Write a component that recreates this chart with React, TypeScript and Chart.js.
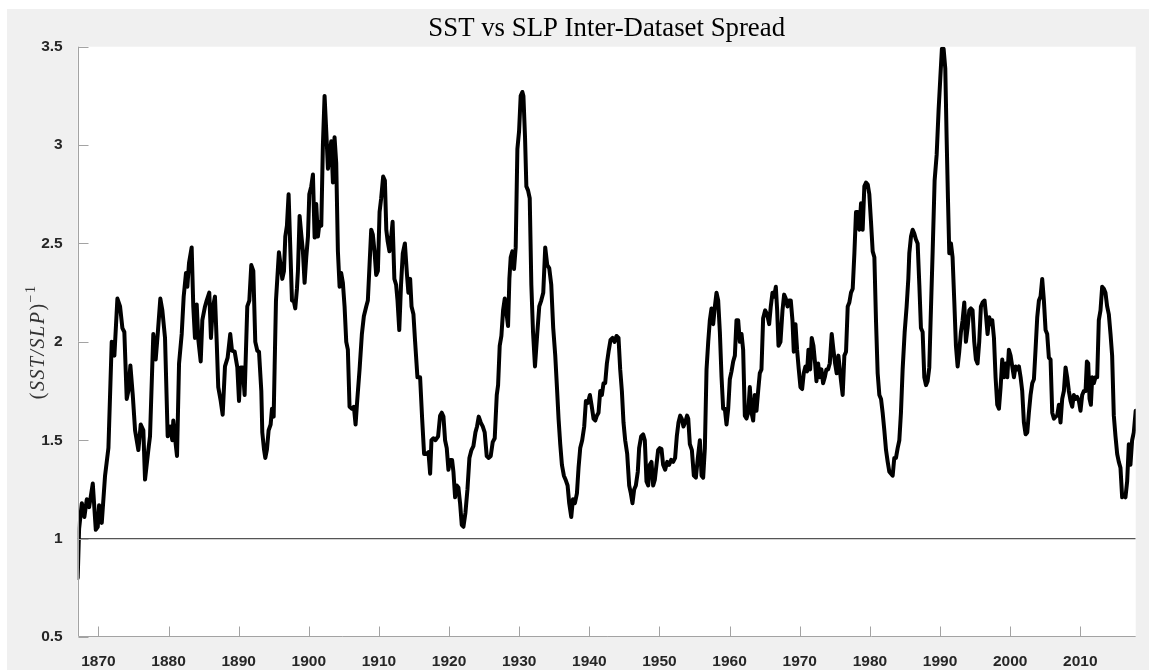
import React, { useEffect, useRef } from "react";
import { Chart, registerables } from "chart.js";

Chart.register(...registerables);

// ---- Data -------------------------------------------------------------
const chartTitle = "SST vs SLP Inter-Dataset Spread";
const xTickYears = [1870, 1880, 1890, 1900, 1910, 1920, 1930, 1940, 1950, 1960, 1970, 1980, 1990, 2000, 2010];
const yTickValues = [0.5, 1, 1.5, 2, 2.5, 3, 3.5];
const xStart = 1867.05;
const xEnd = 2017.9;
const referenceLevel = 1;

// [year, (SST/SLP)^-1]
const spreadSeries: [number, number][] = [
  [1867.05, 0.8], [1867.25, 1.05], [1867.64, 1.18], [1868.0, 1.11], [1868.35, 1.2], [1868.68, 1.16],
  [1869.2, 1.28], [1869.63, 1.045], [1869.91, 1.06], [1870.1, 1.17], [1870.48, 1.08], [1870.95, 1.32],
  [1871.43, 1.46], [1871.9, 2.0], [1872.28, 1.93], [1872.71, 2.22], [1873.09, 2.18], [1873.42, 2.07],
  [1873.7, 2.05], [1874.04, 1.71], [1874.27, 1.75], [1874.56, 1.88], [1874.9, 1.73], [1875.23, 1.55],
  [1875.7, 1.45], [1876.04, 1.58], [1876.41, 1.55], [1876.65, 1.3], [1877.12, 1.45], [1877.36, 1.52],
  [1877.83, 2.04], [1878.17, 1.91], [1878.46, 2.04], [1878.83, 2.22], [1879.12, 2.16], [1879.5, 2.02],
  [1879.88, 1.52], [1880.21, 1.57], [1880.54, 1.5], [1880.68, 1.6], [1880.93, 1.51], [1881.21, 1.42],
  [1881.5, 1.89], [1881.88, 2.04], [1882.16, 2.23], [1882.49, 2.35], [1882.68, 2.28], [1882.92, 2.4],
  [1883.3, 2.48], [1883.53, 2.18], [1883.77, 2.02], [1884.02, 2.19], [1884.25, 2.01], [1884.59, 1.9],
  [1884.82, 2.11], [1885.2, 2.18], [1885.44, 2.21], [1885.81, 2.25], [1886.05, 2.02], [1886.3, 2.17],
  [1886.62, 2.23], [1886.87, 2.0], [1887.09, 1.77], [1887.44, 1.7], [1887.72, 1.63], [1888.05, 1.875],
  [1888.43, 1.92], [1888.8, 2.04], [1889.05, 1.955], [1889.43, 1.95], [1889.81, 1.87], [1890.05, 1.7],
  [1890.28, 1.87], [1890.57, 1.87], [1890.85, 1.73], [1891.23, 2.18], [1891.52, 2.21], [1891.8, 2.39],
  [1892.09, 2.36], [1892.37, 2.0], [1892.66, 1.955], [1892.9, 1.95], [1893.23, 1.75], [1893.37, 1.54],
  [1893.61, 1.455], [1893.8, 1.41], [1894.04, 1.455], [1894.27, 1.55], [1894.56, 1.58], [1894.75, 1.66],
  [1894.99, 1.62], [1895.13, 1.875], [1895.32, 2.21], [1895.6, 2.375], [1895.74, 2.455], [1895.98, 2.39],
  [1896.22, 2.32], [1896.46, 2.36], [1896.65, 2.535], [1896.88, 2.59], [1897.12, 2.75], [1897.31, 2.535],
  [1897.6, 2.21], [1897.88, 2.205], [1898.07, 2.17], [1898.31, 2.27], [1898.45, 2.36], [1898.69, 2.64],
  [1898.93, 2.545], [1899.16, 2.46], [1899.4, 2.3], [1899.64, 2.43], [1899.88, 2.535], [1900.07, 2.75],
  [1900.35, 2.79], [1900.59, 2.85], [1900.83, 2.53], [1901.06, 2.7], [1901.3, 2.535], [1901.54, 2.61],
  [1901.78, 2.59], [1902.01, 3.0], [1902.25, 3.25], [1902.49, 3.07], [1902.73, 2.88], [1902.96, 2.95],
  [1903.2, 3.02], [1903.44, 2.81], [1903.67, 3.04], [1903.91, 2.91], [1904.15, 2.46], [1904.39, 2.28],
  [1904.62, 2.35], [1904.86, 2.3], [1905.1, 2.18], [1905.34, 2.0], [1905.57, 1.96], [1905.81, 1.67],
  [1906.14, 1.66], [1906.43, 1.67], [1906.67, 1.58], [1906.9, 1.7], [1907.24, 1.86], [1907.57, 2.04],
  [1907.85, 2.13], [1908.19, 2.18], [1908.42, 2.21], [1908.66, 2.39], [1908.9, 2.57], [1909.13, 2.545],
  [1909.37, 2.46], [1909.61, 2.34], [1909.85, 2.36], [1910.09, 2.66], [1910.32, 2.73], [1910.6, 2.84],
  [1910.85, 2.82], [1911.05, 2.57], [1911.25, 2.51], [1911.5, 2.46], [1911.75, 2.535], [1911.95, 2.61],
  [1912.2, 2.32], [1912.45, 2.29], [1912.65, 2.21], [1912.9, 2.06], [1913.15, 2.29], [1913.4, 2.45],
  [1913.7, 2.5], [1914.0, 2.34], [1914.2, 2.25], [1914.45, 2.32], [1914.65, 2.18], [1914.92, 2.14],
  [1915.16, 2.0], [1915.49, 1.82], [1915.87, 1.82], [1916.16, 1.61], [1916.44, 1.43], [1916.78, 1.43],
  [1917.06, 1.44], [1917.3, 1.33], [1917.49, 1.5], [1917.77, 1.51], [1918.06, 1.5], [1918.44, 1.52],
  [1918.72, 1.625], [1918.96, 1.64], [1919.2, 1.62], [1919.43, 1.5], [1919.67, 1.46], [1919.91, 1.35],
  [1920.15, 1.4], [1920.43, 1.4], [1920.62, 1.34], [1920.86, 1.21], [1921.1, 1.27], [1921.33, 1.26],
  [1921.57, 1.18], [1921.81, 1.07], [1922.05, 1.06], [1922.33, 1.13], [1922.62, 1.25], [1922.9, 1.41],
  [1923.19, 1.45], [1923.47, 1.47], [1923.76, 1.54], [1923.99, 1.57], [1924.23, 1.62], [1924.52, 1.59],
  [1924.8, 1.57], [1925.08, 1.54], [1925.37, 1.42], [1925.66, 1.41], [1925.94, 1.42], [1926.22, 1.49],
  [1926.51, 1.51], [1926.8, 1.73], [1926.99, 1.78], [1927.22, 1.98], [1927.46, 2.03], [1927.7, 2.16],
  [1927.94, 2.22], [1928.17, 2.15], [1928.41, 2.08], [1928.6, 2.32], [1928.79, 2.43], [1929.03, 2.46],
  [1929.26, 2.37], [1929.5, 2.48], [1929.74, 2.98], [1929.98, 3.07], [1930.21, 3.25], [1930.45, 3.27],
  [1930.6, 3.25], [1930.83, 3.04], [1931.02, 2.79], [1931.26, 2.77], [1931.5, 2.73], [1931.73, 2.29],
  [1931.97, 2.05], [1932.25, 1.875], [1932.57, 2.04], [1932.86, 2.18], [1933.14, 2.21], [1933.43, 2.25],
  [1933.71, 2.48], [1934.0, 2.39], [1934.28, 2.375], [1934.57, 2.29], [1934.85, 2.07], [1935.14, 1.93],
  [1935.38, 1.77], [1935.61, 1.61], [1935.85, 1.48], [1936.09, 1.375], [1936.37, 1.32], [1936.66, 1.295],
  [1936.9, 1.27], [1937.13, 1.18], [1937.42, 1.11], [1937.66, 1.2], [1937.94, 1.18], [1938.23, 1.23],
  [1938.46, 1.36], [1938.7, 1.46], [1938.98, 1.5], [1939.27, 1.57], [1939.51, 1.7], [1939.79, 1.69],
  [1940.08, 1.73], [1940.31, 1.68], [1940.6, 1.61], [1940.84, 1.6], [1941.07, 1.625], [1941.31, 1.64],
  [1941.55, 1.75], [1941.79, 1.73], [1942.02, 1.79], [1942.26, 1.79], [1942.5, 1.89], [1942.74, 1.95],
  [1943.02, 2.01], [1943.31, 2.02], [1943.59, 2.0], [1943.88, 2.03], [1944.16, 2.02], [1944.4, 1.86],
  [1944.64, 1.75], [1944.87, 1.59], [1945.11, 1.5], [1945.4, 1.43], [1945.68, 1.27], [1945.92, 1.23],
  [1946.15, 1.18], [1946.39, 1.25], [1946.63, 1.27], [1946.91, 1.34], [1947.1, 1.46], [1947.39, 1.52],
  [1947.67, 1.53], [1947.91, 1.5], [1948.15, 1.29], [1948.39, 1.27], [1948.62, 1.375], [1948.86, 1.39],
  [1949.1, 1.27], [1949.34, 1.3], [1949.57, 1.375], [1949.81, 1.45], [1950.05, 1.46], [1950.29, 1.455],
  [1950.52, 1.375], [1950.81, 1.35], [1951.09, 1.39], [1951.38, 1.375], [1951.66, 1.4], [1951.95, 1.39],
  [1952.23, 1.41], [1952.47, 1.52], [1952.71, 1.59], [1952.95, 1.625], [1953.18, 1.61], [1953.42, 1.57],
  [1953.66, 1.59], [1953.94, 1.625], [1954.1, 1.61], [1954.33, 1.48], [1954.62, 1.45], [1954.9, 1.32],
  [1955.19, 1.31], [1955.47, 1.41], [1955.76, 1.5], [1956.0, 1.32], [1956.23, 1.31], [1956.47, 1.46],
  [1956.71, 1.86], [1956.95, 2.0], [1957.18, 2.11], [1957.42, 2.17], [1957.66, 2.09], [1957.9, 2.18],
  [1958.13, 2.25], [1958.37, 2.21], [1958.61, 2.05], [1958.85, 1.82], [1959.08, 1.66], [1959.32, 1.66],
  [1959.56, 1.58], [1959.8, 1.66], [1960.03, 1.81], [1960.27, 1.85], [1960.51, 1.9], [1960.75, 1.93],
  [1960.98, 2.11], [1961.22, 2.11], [1961.46, 2.0], [1961.7, 2.04], [1961.93, 1.96], [1962.17, 1.625],
  [1962.41, 1.61], [1962.64, 1.64], [1962.88, 1.77], [1963.12, 1.64], [1963.36, 1.6], [1963.59, 1.73],
  [1963.83, 1.65], [1964.07, 1.75], [1964.3, 1.84], [1964.54, 1.86], [1964.78, 2.12], [1965.07, 2.16],
  [1965.35, 2.14], [1965.64, 2.09], [1965.87, 2.18], [1966.11, 2.25], [1966.35, 2.23], [1966.59, 2.28],
  [1966.78, 2.16], [1966.97, 1.98], [1967.25, 2.0], [1967.54, 2.16], [1967.77, 2.24], [1968.01, 2.22],
  [1968.25, 2.18], [1968.49, 2.21], [1968.72, 2.21], [1968.96, 2.11], [1969.15, 1.95], [1969.39, 2.09],
  [1969.62, 1.96], [1969.86, 1.86], [1970.1, 1.77], [1970.34, 1.76], [1970.57, 1.84], [1970.81, 1.875],
  [1971.05, 1.85], [1971.24, 1.96], [1971.48, 1.86], [1971.71, 2.02], [1971.95, 1.98], [1972.19, 1.89],
  [1972.38, 1.8], [1972.62, 1.89], [1972.85, 1.82], [1973.09, 1.86], [1973.33, 1.79], [1973.57, 1.82],
  [1973.8, 1.86], [1974.04, 1.86], [1974.28, 1.89], [1974.56, 2.04], [1974.8, 1.96], [1975.04, 1.89],
  [1975.27, 1.84], [1975.51, 1.93], [1975.89, 1.8], [1976.12, 1.73], [1976.36, 1.93], [1976.6, 1.95],
  [1976.84, 2.18], [1977.07, 2.2], [1977.31, 2.25], [1977.55, 2.27], [1977.79, 2.45], [1978.02, 2.66],
  [1978.26, 2.66], [1978.5, 2.57], [1978.74, 2.705], [1978.97, 2.57], [1979.21, 2.79], [1979.45, 2.81],
  [1979.69, 2.8], [1979.92, 2.75], [1980.16, 2.61], [1980.4, 2.46], [1980.64, 2.43], [1980.87, 2.11],
  [1981.11, 1.84], [1981.35, 1.73], [1981.59, 1.71], [1981.82, 1.64], [1982.06, 1.55], [1982.3, 1.45],
  [1982.54, 1.39], [1982.77, 1.34], [1983.01, 1.33], [1983.25, 1.32], [1983.48, 1.41], [1983.72, 1.41],
  [1983.96, 1.46], [1984.2, 1.5], [1984.43, 1.64], [1984.67, 1.86], [1984.96, 2.05], [1985.24, 2.18],
  [1985.48, 2.32], [1985.62, 2.45], [1985.86, 2.535], [1986.1, 2.57], [1986.33, 2.55], [1986.57, 2.52],
  [1986.81, 2.5], [1987.05, 2.29], [1987.28, 2.07], [1987.52, 2.05], [1987.76, 1.82], [1988.0, 1.78],
  [1988.23, 1.8], [1988.47, 1.87], [1988.66, 2.11], [1988.95, 2.46], [1989.23, 2.82], [1989.52, 2.95],
  [1989.8, 3.18], [1990.04, 3.34], [1990.27, 3.49], [1990.51, 3.49], [1990.75, 3.39], [1990.94, 3.04],
  [1991.13, 2.73], [1991.32, 2.45], [1991.56, 2.5], [1991.79, 2.43], [1992.03, 2.21], [1992.27, 1.98],
  [1992.51, 1.875], [1992.74, 1.95], [1992.98, 2.05], [1993.22, 2.11], [1993.46, 2.2], [1993.69, 2.0],
  [1993.93, 2.07], [1994.17, 2.16], [1994.41, 2.17], [1994.64, 2.16], [1994.88, 2.0], [1995.12, 1.91],
  [1995.35, 1.89], [1995.59, 2.0], [1995.83, 2.18], [1996.07, 2.2], [1996.35, 2.21], [1996.54, 2.14],
  [1996.78, 2.04], [1997.02, 2.125], [1997.25, 2.09], [1997.45, 2.11], [1997.69, 2.02], [1997.92, 1.82],
  [1998.16, 1.68], [1998.4, 1.66], [1998.64, 1.77], [1998.87, 1.91], [1999.11, 1.82], [1999.35, 1.89],
  [1999.59, 1.82], [1999.82, 1.96], [2000.06, 1.93], [2000.3, 1.875], [2000.54, 1.82], [2000.77, 1.875],
  [2001.01, 1.86], [2001.25, 1.875], [2001.49, 1.82], [2001.72, 1.75], [2001.96, 1.59], [2002.2, 1.53],
  [2002.44, 1.54], [2002.67, 1.64], [2002.91, 1.73], [2003.15, 1.79], [2003.39, 1.81], [2003.62, 1.96],
  [2003.86, 2.125], [2004.1, 2.21], [2004.33, 2.23], [2004.57, 2.32], [2004.81, 2.21], [2005.05, 2.06],
  [2005.28, 2.04], [2005.52, 1.92], [2005.76, 1.91], [2006.0, 1.64], [2006.23, 1.61], [2006.47, 1.62],
  [2006.71, 1.625], [2006.95, 1.68], [2007.18, 1.59], [2007.42, 1.71], [2007.66, 1.75], [2007.9, 1.87],
  [2008.13, 1.82], [2008.37, 1.75], [2008.61, 1.7], [2008.85, 1.67], [2009.08, 1.73], [2009.32, 1.71],
  [2009.56, 1.72], [2009.8, 1.7], [2010.03, 1.65], [2010.27, 1.73], [2010.51, 1.75], [2010.75, 1.75],
  [2010.94, 1.9], [2011.13, 1.89], [2011.32, 1.71], [2011.51, 1.68], [2011.7, 1.82], [2011.93, 1.79],
  [2012.17, 1.82], [2012.41, 1.82], [2012.64, 2.11], [2012.88, 2.16], [2013.12, 2.28], [2013.36, 2.27],
  [2013.59, 2.25], [2013.83, 2.18], [2014.07, 2.14], [2014.31, 2.04], [2014.54, 1.93], [2014.78, 1.625],
  [2015.02, 1.52], [2015.26, 1.43], [2015.49, 1.39], [2015.73, 1.36], [2015.97, 1.21], [2016.21, 1.22],
  [2016.44, 1.21], [2016.68, 1.29], [2016.92, 1.48], [2017.15, 1.375], [2017.39, 1.5], [2017.63, 1.54],
  [2017.9, 1.65],
];

// ---- Component --------------------------------------------------------
const W = 1149;
const H = 670;

export default function App() {
  const canvasRef = useRef<HTMLCanvasElement | null>(null);

  useEffect(() => {
    const canvas = canvasRef.current;
    if (!canvas) return;

    const framePlugin = {
      id: "matlabFrame",
      beforeDraw(chart: any) {
        const { ctx, chartArea: a } = chart;
        ctx.save();
        ctx.fillStyle = "#ffffff";
        ctx.fillRect(0, 0, W, H);
        ctx.fillStyle = "#f0f0f0";
        ctx.fillRect(7, 9, W - 7, H - 9);
        ctx.fillStyle = "#ffffff";
        ctx.fillRect(a.left, a.top, a.right - a.left, a.bottom - a.top);
        ctx.restore();
      },
      afterDraw(chart: any) {
        const { ctx, chartArea: a } = chart;
        const xs = chart.scales.x;
        const ys = chart.scales.y;
        ctx.save();
        // axis lines
        ctx.strokeStyle = "#a3a3a3";
        ctx.lineWidth = 1;
        const lx = Math.round(a.left) + 0.5;
        const by = Math.round(a.bottom) - 0.5;
        ctx.beginPath();
        ctx.moveTo(lx, a.top);
        ctx.lineTo(lx, by);
        ctx.lineTo(a.right, by);
        ctx.stroke();
        // inward ticks
        ctx.beginPath();
        yTickValues.forEach((v) => {
          const py = Math.round(ys.getPixelForValue(v)) + 0.5;
          ctx.moveTo(lx, py);
          ctx.lineTo(lx + 10, py);
        });
        xTickYears.forEach((v) => {
          const px = Math.round(xs.getPixelForValue(v)) + 0.5;
          ctx.moveTo(px, by);
          ctx.lineTo(px, by - 10);
        });
        ctx.stroke();

        // title, fitted to the reference width
        const targetW = 357;
        ctx.font = '100px "Liberation Serif"';
        const w100 = ctx.measureText(chartTitle).width;
        const fs = (100 * targetW) / w100;
        ctx.font = `${fs}px "Liberation Serif"`;
        ctx.fillStyle = "#000000";
        ctx.textAlign = "center";
        ctx.textBaseline = "alphabetic";
        ctx.fillText(chartTitle, (a.left + a.right) / 2, 36);

        // y label: (SST/SLP)^{-1}
        const base = 20;
        const parts: { t: string; font: string; dy: number }[] = [
          { t: "(", font: `${base}px "Liberation Serif"`, dy: 0 },
          { t: "SST/SLP", font: `italic ${base}px "Liberation Serif"`, dy: 0 },
          { t: ")", font: `${base}px "Liberation Serif"`, dy: 0 },
          { t: "\u22121", font: `${base * 0.7}px "Liberation Serif"`, dy: -base * 0.45 },
        ];
        (ctx as any).letterSpacing = "1.5px";
        let total = 0;
        const widths = parts.map((p) => {
          ctx.font = p.font;
          const w = ctx.measureText(p.t).width;
          total += w;
          return w;
        });
        ctx.translate(44, (a.top + a.bottom) / 2);
        ctx.rotate(-Math.PI / 2);
        ctx.fillStyle = "#333333";
        ctx.textAlign = "left";
        let cx = -total / 2;
        parts.forEach((p, i) => {
          ctx.font = p.font;
          ctx.fillText(p.t, cx, p.dy);
          cx += widths[i];
        });
        ctx.restore();
      },
    };

    const tickFont = { family: '"Liberation Sans", Arial, sans-serif', size: 15.5, weight: "bold" as const };

    const chart = new Chart(canvas, {
      type: "line",
      data: {
        datasets: [
          {
            label: "spread",
            data: spreadSeries.map(([x, y]) => ({ x, y })),
            borderColor: "#000000",
            borderWidth: 4,
            pointRadius: 0,
            tension: 0,
            borderJoinStyle: "round",
            borderCapStyle: "round",
            fill: false,
            order: 0,
          },
          {
            label: "reference",
            data: [
              { x: xStart, y: referenceLevel },
              { x: xEnd, y: referenceLevel },
            ],
            borderColor: "#555555",
            borderWidth: 1.2,
            pointRadius: 0,
            fill: false,
            order: 1,
          },
        ],
      },
      options: {
        responsive: false,
        animation: false,
        devicePixelRatio: 1,
        layout: { padding: { left: 0, top: 46.7, right: W - 1135.7, bottom: 0 } },
        plugins: {
          legend: { display: false },
          title: { display: false },
          tooltip: { enabled: false },
        },
        scales: {
          x: {
            type: "linear",
            min: xStart,
            max: xEnd,
            grid: { display: false },
            border: { display: false },
            afterBuildTicks: (s: any) => {
              s.ticks = xTickYears.map((v) => ({ value: v }));
            },
            afterFit: (s: any) => {
              s.height = 33;
            },
            ticks: {
              autoSkip: false,
              maxRotation: 0,
              padding: 7,
              color: "#262626",
              font: tickFont,
              callback: (v: any) => String(v),
            },
          },
          y: {
            type: "linear",
            min: 0.5,
            max: 3.5,
            grid: { display: false },
            border: { display: false },
            afterBuildTicks: (s: any) => {
              s.ticks = yTickValues.map((v) => ({ value: v }));
            },
            afterFit: (s: any) => {
              s.width = 77.7;
            },
            ticks: {
              padding: 7,
              color: "#262626",
              font: tickFont,
              callback: (v: any) => String(v),
            },
          },
        },
      },
      plugins: [framePlugin],
    });

    return () => chart.destroy();
  }, []);

  return (
    <div style={{ position: "fixed", left: 0, top: 0, width: W, height: H, background: "#ffffff" }}>
      <canvas ref={canvasRef} width={W} height={H} style={{ display: "block", width: W, height: H }} />
    </div>
  );
}
